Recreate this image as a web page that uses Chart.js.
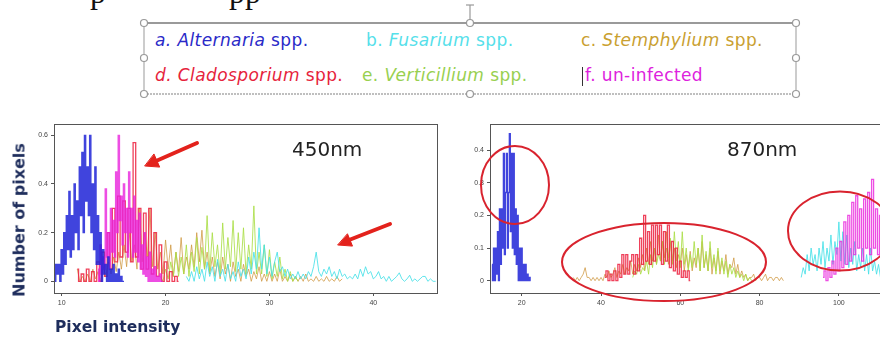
<!DOCTYPE html>
<html>
<head>
<meta charset="utf-8">
<script src="https://cdn.jsdelivr.net/npm/chart.js@4.4.0/dist/chart.umd.min.js"></script>
<style>
  body { margin: 0; background: #fff; }
  #page { position: relative; width: 880px; height: 340px; overflow: hidden; background: #fff; font-family: 'DejaVu Sans', sans-serif; }
  .abs { position: absolute; white-space: nowrap; }
  .leg { font-size: 17px; letter-spacing: 0.4px; line-height: 20px; height: 20px; }
  .leg i { font-style: italic; }
  .axis-title { font-weight: bold; color: #1e2d5c; }
  .band { font-size: 20px; color: #222; line-height: 24px; }
</style>
</head>
<body>
<div id="page">
  <!-- bottom of the slide title above, cut off by the crop -->
  <div class="abs" style="left:90px;top:-25px;font:32px 'Liberation Serif',serif;line-height:34px;color:#111">p</div>
  <div class="abs" style="left:229px;top:-25px;font:32px 'Liberation Serif',serif;line-height:34px;color:#111">pp</div>

  <!-- selected text box with the legend -->
  <svg class="abs" style="left:0;top:0" width="880" height="110">
    <line x1="470" y1="23" x2="470" y2="5" stroke="#999" stroke-width="1.2"/>
    <line x1="466" y1="5" x2="474" y2="5" stroke="#999" stroke-width="1.2"/>
    <line x1="144" y1="23" x2="796" y2="23" stroke="#9a9a9a" stroke-width="2"/>
    <line x1="144" y1="94" x2="796" y2="94" stroke="#aaa" stroke-width="1.5" stroke-dasharray="2 1"/>
    <line x1="144" y1="23" x2="144" y2="94" stroke="#aaa" stroke-width="1.2"/>
    <line x1="796" y1="23" x2="796" y2="94" stroke="#aaa" stroke-width="1.2"/>
    <g fill="#fff" stroke="#999" stroke-width="1.2">
      <circle cx="144" cy="23" r="3.5"/><circle cx="470" cy="23" r="3.5"/><circle cx="796" cy="23" r="3.5"/>
      <circle cx="144" cy="58" r="3.5"/><circle cx="796" cy="58" r="3.5"/>
      <circle cx="144" cy="94" r="3.5"/><circle cx="470" cy="94" r="3.5"/><circle cx="796" cy="94" r="3.5"/>
    </g>
  </svg>
  <div class="abs leg" style="left:155px;top:30px;color:#2a2ac8"><i>a. Alternaria</i> spp.</div>
  <div class="abs leg" style="left:366px;top:30px;color:#55e0ea">b. <i>Fusarium</i> spp.</div>
  <div class="abs leg" style="left:581px;top:30px;color:#c9a030">c. <i>Stemphylium</i> spp.</div>
  <div class="abs leg" style="left:155px;top:65px;color:#e6233c"><i>d. Cladosporium</i> spp.</div>
  <div class="abs leg" style="left:362px;top:65px;color:#98d050">e. <i>Verticillium</i> spp.</div>
  <div class="abs leg" style="left:585px;top:65px;color:#dd22dd">f. un-infected</div>
  <div class="abs" style="left:582px;top:67px;width:1px;height:19px;background:#333"></div>

  <div class="abs" style="left:0;top:110px"><canvas id="chart450" width="450" height="210"></canvas></div>
  <div class="abs" style="left:440px;top:110px"><canvas id="chart870" width="480" height="210"></canvas></div>

  <div class="abs band" style="left:292px;top:137px">450nm</div>
  <div class="abs band" style="left:727px;top:137px">870nm</div>

  <div class="abs axis-title" style="left:19px;top:220px;font-size:16px;transform:translate(-50%,-50%) rotate(-90deg)">Number of pixels</div>
  <div class="abs axis-title" style="left:55px;top:318px;font-size:15.5px">Pixel intensity</div>

  <!-- annotations drawn over the plots -->
  <svg class="abs" style="left:0;top:0" width="880" height="340">
    <g stroke="#e3221c" stroke-width="4" fill="#e3221c" stroke-linecap="round">
      <line x1="197" y1="143" x2="156" y2="161"/>
      <polygon points="145,166 159.7,167.1 154.1,154.3" stroke-width="1"/>
      <line x1="390" y1="224" x2="349" y2="240"/>
      <polygon points="338,245 352.5,246.1 347.6,234.1" stroke-width="1"/>
    </g>
    <g stroke="#d9232e" stroke-width="2" fill="none">
      <ellipse cx="515" cy="185" rx="34" ry="39"/>
      <ellipse cx="664" cy="262" rx="102" ry="39"/>
      <ellipse cx="840" cy="231" rx="52" ry="39.5"/>
    </g>
  </svg>
</div>

<script>
// ---- 450nm histograms ----
const step450 = 0.25;
const fineStep450 = 0.125;
const xTicks450 = [10, 20, 30, 40];
const yTicks450 = [0, 0.2, 0.4, 0.6];

const alt450Start = 9.25;   // fine bins
const alt450 = [0.07, 0, 0.07, 0.03, 0.07, 0, 0.13, 0.03, 0.2, 0.07, 0.27, 0.13, 0.37, 0.1, 0.27, 0.13,
  0.4, 0.2, 0.33, 0.13, 0.47, 0.27, 0.53, 0.2, 0.6, 0.33, 0.47, 0.27, 0.6, 0.2, 0.4, 0.13,
  0.47, 0.07, 0.27, 0.07, 0.2, 0, 0.13, 0.03, 0.07, 0, 0.1, 0, 0.05, 0, 0.07, 0,
  0.03, 0, 0.05, 0, 0.02, 0, 0];

const uni450Start = 13.5;   // fine bins
const uni450 = [0.05, 0, 0.15, 0.03, 0.1, 0.05, 0.38, 0.1, 0.2, 0.05, 0.3, 0.12, 0.25, 0.1, 0.45, 0.2,
  0.6, 0.25, 0.35, 0.15, 0.4, 0.2, 0.3, 0.1, 0.45, 0.2, 0.3, 0.1, 0.35, 0.12, 0.25, 0.08,
  0.28, 0.05, 0.15, 0.03, 0.2, 0.02, 0.1, 0, 0.12, 0, 0.05, 0, 0.06, 0, 0.02, 0,
  0.03, 0, 0];

const cla450Start = 11.5;
const cla450 = [0.05, 0, 0.03, 0, 0.05, 0, 0.04, 0, 0.08, 0, 0.12, 0.02, 0.2, 0.05, 0.3, 0.08,
  0.35, 0.1, 0.33, 0.12, 0.3, 0.08, 0.57, 0.1, 0.3, 0.05, 0.28, 0.05, 0.3, 0.03, 0.2, 0.02,
  0.15, 0, 0.08, 0, 0.04, 0, 0.02, 0];

const ste450Start = 11.5;
const ste450 = [0.05, 0, 0.02, 0, 0.03, 0, 0.05, 0.01, 0.04, 0, 0.06, 0.02, 0.08, 0.03, 0.1, 0.04,
  0.12, 0.05, 0.15, 0.06, 0.2, 0.08, 0.15, 0.05, 0.3, 0.08, 0.2, 0.1, 0.3, 0.06, 0.2, 0.05,
  0.12, 0.03, 0.17, 0.05, 0.15, 0.02, 0.12, 0.04, 0.18, 0.03, 0.1, 0.05, 0.15, 0.06, 0.2, 0.08,
  0.21, 0.05, 0.12, 0.03, 0.1, 0.02, 0.08, 0.01, 0.1, 0.03, 0.07, 0, 0.08, 0.02, 0.05, 0,
  0.07, 0.02, 0.05, 0, 0.04, 0.01, 0.06, 0, 0.03, 0, 0.04, 0, 0.03, 0, 0.05, 0,
  0.02, 0, 0.03, 0, 0.02, 0, 0.02, 0, 0.03, 0, 0.01, 0, 0.02, 0, 0.01, 0,
  0.02, 0, 0.01, 0, 0.02, 0, 0.01];

const ver450Start = 19.5;
const ver450 = [0.02, 0, 0.05, 0.01, 0.08, 0.02, 0.12, 0.02, 0.1, 0.03, 0.15, 0.02, 0.12, 0.04, 0.18, 0.03,
  0.14, 0.05, 0.27, 0.04, 0.2, 0.06, 0.15, 0.03, 0.24, 0.05, 0.18, 0.06, 0.25, 0.04, 0.2, 0.05,
  0.22, 0.03, 0.15, 0.05, 0.31, 0.03, 0.12, 0.03, 0.15, 0.02, 0.13, 0.01, 0.08, 0.02, 0.1, 0.01,
  0.05, 0, 0.04, 0, 0.02, 0];

const fus450Start = 22;
const fus450 = [0.02, 0, 0.04, 0, 0.06, 0.01, 0.05, 0, 0.08, 0.02, 0.06, 0, 0.09, 0.02, 0.05, 0,
  0.07, 0.01, 0.04, 0, 0.08, 0.02, 0.05, 0.01, 0.1, 0.03, 0.12, 0.05, 0.22, 0.05, 0.15, 0.03,
  0.1, 0.02, 0.08, 0.12, 0.04, 0.06, 0.02, 0.05, 0.01, 0.03, 0.01, 0.04, 0.01, 0.03, 0.01, 0.04,
  0.02, 0.06, 0.12, 0.04, 0.02, 0.05, 0.03, 0.06, 0.02, 0.04, 0.01, 0.05, 0.02, 0.03, 0.01, 0.02,
  0.01, 0.03, 0.01, 0.05, 0.02, 0.06, 0.03, 0.04, 0.01, 0.02, 0.04, 0.01, 0.02, 0, 0.02, 0,
  0.01, 0.02, 0.035, 0.01, 0, 0.01, 0.025, 0, 0.01, 0, 0.01, 0.02, 0.02, 0, 0.01, 0, 0];

// ---- 870nm histograms ----
const step870 = 0.5;
const fineStep870 = 0.25;
const xTicks870 = [20, 40, 60, 80, 100];
const yTicks870 = [0, 0.1, 0.2, 0.3, 0.4];

const alt870Start = 12.5;   // fine bins
const alt870 = [0.05, 0, 0.1, 0, 0.1, 0.02, 0.15, 0, 0.22, 0.05, 0.22, 0.1, 0.39, 0.08, 0.27, 0.39,
  0.1, 0.27, 0.45, 0.15, 0.39, 0.1, 0.39, 0.08, 0.22, 0.05, 0.2, 0, 0.1, 0, 0.1, 0,
  0.05, 0, 0.05, 0, 0.02, 0, 0.01, 0];

const ste870Start = 33;
const ste870 = [0.01, 0, 0.01, 0, 0.01, 0.02, 0.04, 0.01, 0.01, 0, 0.01, 0, 0.01, 0, 0.01, 0,
  0.02, 0.01, 0.03, 0.01, 0.02, 0.04, 0.01, 0.03, 0.02, 0.05, 0.02, 0.04, 0.03, 0.06, 0.02, 0.05,
  0.03, 0.07, 0.04, 0.08, 0.03, 0.1, 0.05, 0.12, 0.06, 0.1, 0.05, 0.14, 0.06, 0.12, 0.07, 0.15,
  0.05, 0.12, 0.06, 0.1, 0.04, 0.08, 0.05, 0.1, 0.03, 0.08, 0.04, 0.09, 0.03, 0.07, 0.04, 0.1,
  0.03, 0.12, 0.04, 0.08, 0.03, 0.1, 0.02, 0.07, 0.03, 0.09, 0.02, 0.06, 0.03, 0.08, 0.02, 0.05,
  0.04, 0.07, 0.02, 0.05, 0.01, 0.03, 0.01, 0.02, 0, 0.01, 0.01, 0.02, 0, 0.01, 0.01, 0,
  0.01, 0.02, 0, 0.01, 0.01, 0, 0.01, 0.01, 0, 0.01, 0];

const cla870Start = 41;
const cla870 = [0.01, 0.03, 0, 0.02, 0, 0.03, 0, 0.05, 0.01, 0.08, 0.02, 0.08, 0.02, 0.06, 0.08, 0.02,
  0.08, 0.03, 0.13, 0.05, 0.2, 0.06, 0.15, 0.05, 0.17, 0.06, 0.17, 0.08, 0.17, 0.05, 0.15, 0.06,
  0.17, 0.04, 0.12, 0.03, 0.1, 0.02, 0.06, 0.01, 0.03, 0.01, 0.03, 0];

const ver870Start = 48;
const ver870 = [0.01, 0.03, 0.02, 0.05, 0.02, 0.04, 0.03, 0.06, 0.02, 0.08, 0.04, 0.1, 0.05, 0.08, 0.06, 0.12,
  0.05, 0.1, 0.07, 0.13, 0.05, 0.15, 0.06, 0.12, 0.04, 0.15, 0.05, 0.1, 0.03, 0.08, 0.04, 0.12,
  0.05, 0.1, 0.03, 0.14, 0.04, 0.09, 0.03, 0.12, 0.04, 0.08, 0.02, 0.1, 0.03, 0.07, 0.02, 0.06,
  0.01, 0.05, 0.02, 0.04, 0.01, 0.03, 0.01, 0.02, 0, 0.02, 0, 0.01, 0];

const fus870Start = 90.5;
const fus870 = [0.01, 0.04, 0.02, 0.08, 0.03, 0.1, 0.05, 0.08, 0.03, 0.1, 0.05, 0.12, 0.04, 0.1, 0.06, 0.14,
  0.05, 0.12, 0.08, 0.18, 0.06, 0.15, 0.05, 0.14, 0.04, 0.1, 0.05, 0.12, 0.03, 0.08, 0.04, 0.1,
  0.03, 0.08, 0.02, 0.1, 0.03, 0.06, 0.02, 0.05, 0.01, 0.04, 0.01, 0.02, 0];

const uni870Start = 96;
const uni870 = [0.01, 0.03, 0, 0.04, 0.01, 0.06, 0.02, 0.1, 0.03, 0.12, 0.04, 0.18, 0.05, 0.2, 0.06, 0.24,
  0.08, 0.26, 0.1, 0.22, 0.06, 0.25, 0.1, 0.27, 0.08, 0.31, 0.1, 0.22, 0.08, 0.2, 0.06, 0.15,
  0.03, 0.1, 0.02, 0.05, 0];

// ---- styles ----
const colAlt = 'rgba(30, 35, 215, 0.85)';
const colFus = 'rgba(70, 225, 232, 0.85)';
const colSte = 'rgba(205, 150, 60, 0.75)';
const colCla = 'rgba(236, 32, 62, 0.85)';
const colVer = 'rgba(170, 222, 70, 0.85)';
const colUni = 'rgba(232, 34, 220, 0.8)';

function bins(start, step, values) {
  return values.map((v, i) => ({ x: +(start + i * step).toFixed(3), y: v }));
}

function series(data, color, stepped) {
  return {
    data: data,
    borderColor: color,
    borderWidth: stepped ? 1.3 : 1,
    pointRadius: 0,
    tension: 0,
    stepped: stepped ? 'middle' : false,
    fill: false
  };
}

const framePlugin = {
  id: 'frame',
  afterDatasetsDraw(chart) {
    const a = chart.chartArea;
    const ctx = chart.ctx;
    ctx.save();
    ctx.strokeStyle = '#555';
    ctx.lineWidth = 1;
    ctx.strokeRect(Math.round(a.left) + 0.5, Math.round(a.top) + 0.5, Math.round(a.right - a.left), Math.round(a.bottom - a.top));
    ctx.restore();
  }
};

function makeChart(id, datasets, opt) {
  new Chart(document.getElementById(id), {
    type: 'line',
    data: { datasets: datasets },
    plugins: [framePlugin],
    options: {
      responsive: false,
      animation: false,
      events: [],
      layout: { padding: { left: 0, top: 14, right: opt.padRight, bottom: 0 } },
      plugins: { legend: { display: false }, tooltip: { enabled: false } },
      scales: {
        x: {
          type: 'linear',
          min: opt.xMin,
          max: opt.xMax,
          afterBuildTicks: s => { s.ticks = opt.xTicks.map(v => ({ value: v })); },
          afterFit: s => { s.height = 27; },
          grid: { drawOnChartArea: false, tickLength: 3, color: '#555' },
          border: { display: false },
          ticks: { color: '#444', font: { family: 'Liberation Sans', size: 7 }, padding: 3, maxRotation: 0 }
        },
        y: {
          min: opt.yMin,
          max: opt.yMax,
          afterBuildTicks: s => { s.ticks = opt.yTicks.map(v => ({ value: v })); },
          afterFit: s => { s.width = opt.yWidth; },
          grid: { drawOnChartArea: false, tickLength: 3, color: '#555' },
          border: { display: false },
          ticks: { color: '#444', font: { family: 'Liberation Sans', size: 7 }, padding: 3, callback: v => String(v) }
        }
      }
    }
  });
}

makeChart('chart450', [
  series(bins(alt450Start, fineStep450, alt450), colAlt, true),
  series(bins(uni450Start, fineStep450, uni450), colUni, true),
  series(bins(cla450Start, step450, cla450), colCla, true),
  series(bins(fus450Start, step450, fus450), colFus, false),
  series(bins(ver450Start, step450, ver450), colVer, false),
  series(bins(ste450Start, step450, ste450), colSte, false)
], { xMin: 9.26, xMax: 46.13, yMin: -0.048, yMax: 0.6465, xTicks: xTicks450, yTicks: yTicks450, yWidth: 54, padRight: 13 });

makeChart('chart870', [
  series(bins(alt870Start, fineStep870, alt870), colAlt, true),
  series(bins(uni870Start, step870, uni870), colUni, true),
  series(bins(cla870Start, step870, cla870), colCla, true),
  series(bins(fus870Start, step870, fus870), colFus, false),
  series(bins(ver870Start, step870, ver870), colVer, false),
  series(bins(ste870Start, step870, ste870), colSte, false)
], { xMin: 12, xMax: 119.2, yMin: -0.0376, yMax: 0.4796, xTicks: xTicks870, yTicks: yTicks870, yWidth: 50, padRight: 5 });
</script>
</body>
</html>
